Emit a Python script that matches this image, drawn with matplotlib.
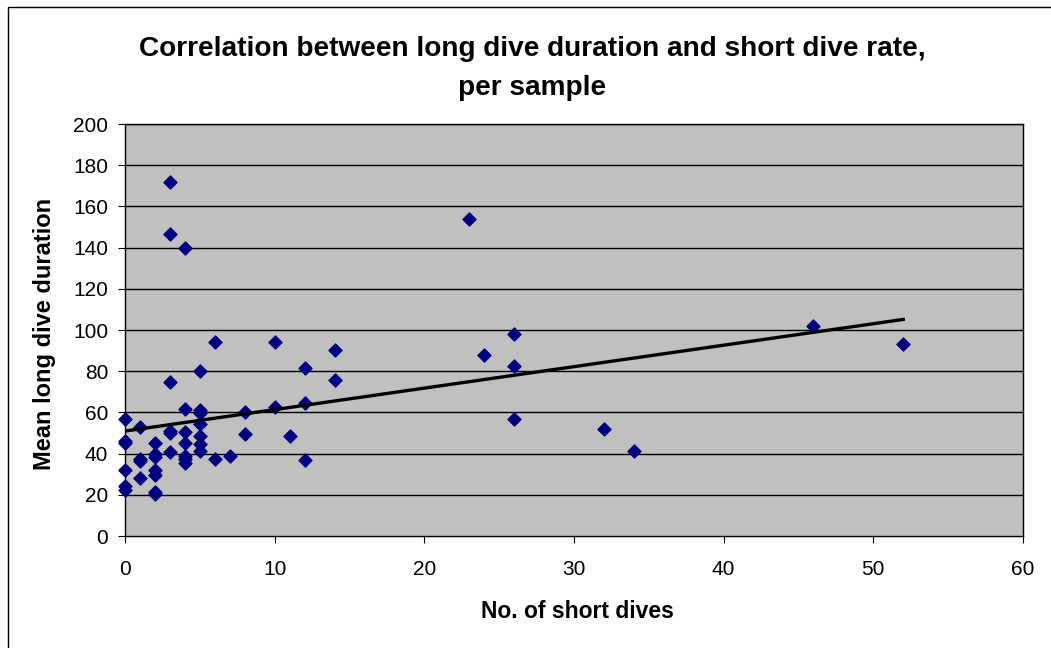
import matplotlib
matplotlib.use("Agg")
import matplotlib.pyplot as plt
import numpy as np
from matplotlib.patches import Rectangle

plt.rcParams['font.family'] = ['Liberation Sans', 'DejaVu Sans']

short_dives = [0, 1, 0, 0, 1, 1, 0, 1, 0, 0,
               2, 2, 2, 2, 2, 2, 2,
               3, 3, 3, 3, 3, 3,
               4, 4, 4, 4, 4, 4, 4,
               5, 5, 5, 5, 5, 5, 5,
               6, 6, 7, 8, 8, 10, 10, 11, 12, 12, 12, 14, 14,
               23, 24, 26, 26, 26, 32, 34, 46, 52]
long_duration = [57, 53, 46, 45, 37.5, 36.5, 32, 28, 24.5, 22.5,
                 45, 40, 38.5, 32, 29.5, 21.5, 20.5,
                 172, 146.5, 75, 51, 50, 41,
                 140, 61.5, 50.5, 45, 39, 37.5, 35.5,
                 80, 61, 59.5, 54.5, 48.5, 44.5, 41.5,
                 94, 37.5, 39, 60, 49.5, 94, 62.5, 48.5, 81.5, 64.5, 37, 90.5, 75.5,
                 154, 88, 98, 82.5, 57, 52, 41.5, 102, 93]

x_ticks = [0, 10, 20, 30, 40, 50, 60]
y_ticks = [0, 20, 40, 60, 80, 100, 120, 140, 160, 180, 200]

fig = plt.figure(figsize=(10.51, 6.48), dpi=100)
W, H = 1051, 648
ax = fig.add_axes([125 / W, 1 - 536 / H, (1023 - 125) / W, (536 - 124) / H])
ax.set_facecolor('#C0C0C0')

for yv in y_ticks[1:]:
    ax.axhline(yv, color='black', linewidth=1.0, zorder=1)

ax.scatter(short_dives, long_duration, marker='D', s=44, color='#000080',
           edgecolors='#000080', zorder=3, clip_on=False)

x = np.array(short_dives, dtype=float)
y = np.array(long_duration, dtype=float)
slope, intercept = np.polyfit(x, y, 1)
xl = np.array([0, max(short_dives)])
ax.plot(xl, slope * xl + intercept, color='black', linewidth=2.4, zorder=4)

ax.set_xlim(0, 60)
ax.set_ylim(0, 200)
ax.set_xticks(x_ticks)
ax.set_yticks(y_ticks)
ax.tick_params(axis='both', labelsize=15, direction='out', length=5, color='black')
ax.tick_params(axis='y', pad=7)
ax.tick_params(axis='x', pad=12)
for s in ax.spines.values():
    s.set_color('black')
    s.set_linewidth(1.0)

fig.text(577 / W, 1 - 611 / H, 'No. of short dives', ha='center', va='center',
         fontsize=16.5, fontweight='bold')
fig.text(45 / W, 1 - 334 / H, 'Mean long dive duration', ha='center', va='center',
         fontsize=17, fontweight='bold', rotation=90)
fig.text(532 / W, 1 - 56 / H, 'Correlation between long dive duration and short dive rate,',
         ha='center', va='baseline', fontsize=20.2, fontweight='bold')
fig.text(532 / W, 1 - 95 / H, 'per sample',
         ha='center', va='baseline', fontsize=20.2, fontweight='bold')

fig.add_artist(Rectangle((8 / W, -0.05), 1.2, 1 - 7 / H + 0.05,
                         transform=fig.transFigure, fill=False, edgecolor='black', linewidth=1.0))

fig.savefig('out.png', dpi=100)
